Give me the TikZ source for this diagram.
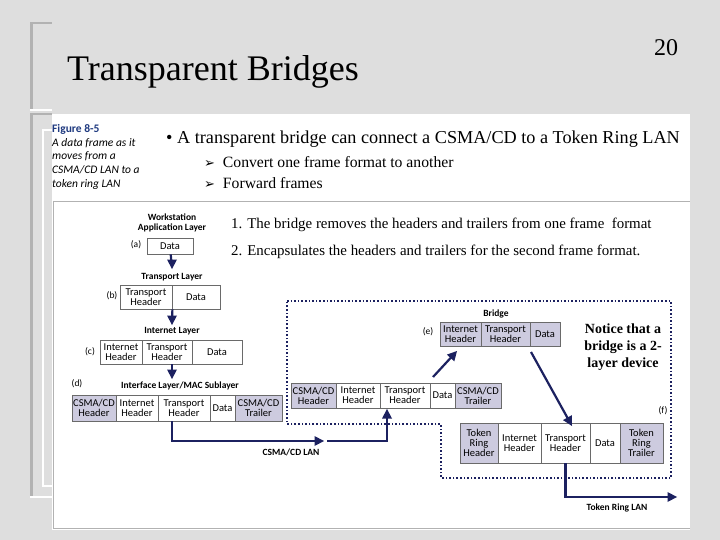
\documentclass[tikz,border=0pt]{standalone}
\usepackage{fontspec}
\setmainfont{Liberation Serif}
\newfontfamily\figfont{Carlito}
\newfontfamily\symfont{DejaVu Sans}
\definecolor{marble}{HTML}{DEDEDE}
\definecolor{navy}{HTML}{1C2160}
\definecolor{shade}{HTML}{CDCBDF}
\definecolor{edge}{HTML}{6A6A6A}
\definecolor{capblue}{HTML}{1F3A80}
\tikzset{
  cell/.style={draw=edge, line width=0.8pt, fill=white, inner sep=0pt, minimum height=#1,
    align=center, font=\figfont\fontsize{10.5}{10}\selectfont},
  cell/.default=24pt,
  shd/.style={fill=shade},
  lbl/.style={font=\figfont\fontsize{9.5}{10}\selectfont, inner sep=0pt, align=center},
  slide/.style={inner sep=0pt, anchor=west},
  frameflow/.style={color=navy, line width=2.2pt, shorten >=6pt},
}
% arrow heads, drawn at the end point of a connector
\newcommand\tipdown[1]{\fill[navy] (#1) -- ++(-5,-9.5) -- ++(10,0) -- cycle;}
\newcommand\tipup[1]{\fill[navy] (#1) -- ++(-5,9.5) -- ++(10,0) -- cycle;}
\newcommand\tipright[1]{\fill[navy] (#1) -- ++(-9.5,-5) -- ++(0,10) -- cycle;}
\begin{document}
\begin{tikzpicture}[x=1pt, y=-1pt]
\useasboundingbox (0,0) rectangle (720,540);
% slide background
\fill[marble] (0,0) rectangle (720,540);
\fill[white] (52,114) rectangle (690,530);
\draw[gray!60, line width=3pt] (31.5,23) -- (31.5,110);
\draw[gray!60, line width=2pt] (30,23) -- (52,23);
\draw[white, line width=2pt] (30,110) -- (52,110);
\draw[gray!60, line width=3pt] (31.5,114) -- (31.5,497);
\draw[gray!60, line width=2pt] (30,114) -- (52,114);
\draw[white, line width=2pt] (30,497) -- (52,497);
\draw[white, line width=1.5pt] (52,130) -- (43,130) -- (43,486) -- (52,486);
\draw[gray!60, line width=0.8pt] (53,201) -- (690,201) (53,201) -- (53,528) -- (690,528);

% titles
\node[slide] (title) at (67,72) {\fontsize{36}{36}\selectfont Transparent Bridges};
\node[inner sep=0pt] (num) at (666,48) {\fontsize{24}{24}\selectfont 20};
\node[slide] (bul) at (166,139) {\fontsize{18.2}{18}\selectfont • A transparent bridge can connect a CSMA/CD to a Token Ring LAN};
\node[slide] (sub1) at (204,162) {\fontsize{15.7}{15}\selectfont {\symfont\fontsize{13}{13}\selectfont ➢}\enspace Convert one frame format to another};
\node[slide] (sub2) at (204,183) {\fontsize{15.7}{15}\selectfont {\symfont\fontsize{13}{13}\selectfont ➢}\enspace Forward frames};
\node[slide] (step1) at (231,225) {\fontsize{14.9}{14}\selectfont 1. The bridge removes the headers and trailers from one frame\enspace format};
\node[slide] (step2) at (231,252) {\fontsize{14.9}{14}\selectfont 2. Encapsulates the headers and trailers for the second frame format.};

% figure caption
\node[slide, anchor=north west, align=left, font=\figfont\fontsize{11.5}{13.8}\selectfont] (cap) at (52,124)
  {{\bfseries\color{capblue}Figure 8-5}\\ \itshape A data frame as it\\ \itshape moves from a\\ \itshape CSMA/CD LAN to a\\ \itshape token ring LAN};

% workstation stack
\node[lbl] (la) at (172,223) {\bfseries Workstation\\ \bfseries Application Layer};
\node[cell=16pt, minimum width=46pt] (a) at (170,246) {Data};
\node[lbl] at (136,245) {(a)};
\node[lbl] (lb) at (172,277) {\bfseries Transport Layer};
\node[cell, minimum width=52pt] (b1) at (146,297) {Transport\\Header};
\node[cell, minimum width=48pt] (b2) at (196,297) {Data};
\node[lbl] at (112,296) {(b)};
\node[lbl] (lc) at (172,331) {\bfseries Internet Layer};
\node[cell, minimum width=42pt] (c1) at (121,352) {Internet\\Header};
\node[cell, minimum width=50pt] (c2) at (167,352) {Transport\\Header};
\node[cell, minimum width=50pt] (c3) at (217,352) {Data};
\node[lbl] at (90,352) {(c)};
\node[lbl] (ld) at (180,386) {\bfseries Interface Layer/MAC Sublayer};
\node[lbl] at (77,384) {(d)};
\node[cell=26pt, shd, minimum width=44pt] (d1) at (94,408) {CSMA/CD\\Header};
\node[cell=26pt, minimum width=42pt] (d2) at (137,408) {Internet\\Header};
\node[cell=26pt, minimum width=52pt] (d3) at (184,408) {Transport\\Header};
\node[cell=26pt, minimum width=25pt] (d4) at (222.5,408) {Data};
\node[cell=26pt, shd, minimum width=47pt] (d5) at (258.5,408) {CSMA/CD\\Trailer};

% bridge
\draw[navy, line width=1.6pt, dotted] (287,301) -- (671,301) -- (671,478) -- (441,478) -- (441,424) -- (287,424) -- cycle;
\node[lbl] (lbr) at (496,314) {\bfseries Bridge};
\node[lbl] at (428,332) {(e)};
\node[cell, shd, minimum width=41pt] (e1) at (460.5,334) {Internet\\Header};
\node[cell, shd, minimum width=49pt] (e2) at (505.5,334) {Transport\\Header};
\node[cell, shd, minimum width=30pt] (e3) at (545,334) {Data};
\node[cell=25pt, shd, minimum width=45pt] (g1) at (313.5,395.5) {CSMA/CD\\Header};
\node[cell=25pt, minimum width=44pt] (g2) at (358,395.5) {Internet\\Header};
\node[cell=25pt, minimum width=50pt] (g3) at (405,395.5) {Transport\\Header};
\node[cell=25pt, minimum width=25pt] (g4) at (442.5,395.5) {Data};
\node[cell=25pt, shd, minimum width=46pt] (g5) at (478,395.5) {CSMA/CD\\Trailer};
\node[font=\bfseries\fontsize{14}{17}\selectfont, align=center, inner sep=0pt] (note) at (623,347)
  {Notice that a\\bridge is a 2-\\layer device};
\node[lbl] at (663,411) {(f)};
\node[cell=40pt, shd, minimum width=38pt] (f1) at (479,443) {Token\\Ring\\Header};
\node[cell=40pt, minimum width=43pt] (f2) at (519.5,443) {Internet\\Header};
\node[cell=40pt, minimum width=49pt] (f3) at (565.5,443) {Transport\\Header};
\node[cell=40pt, minimum width=30pt] (f4) at (605,443) {Data};
\node[cell=40pt, shd, minimum width=43pt] (f5) at (641.5,443) {Token\\Ring\\Trailer};

% LAN labels and free ends
\node[lbl] (lan1) at (291,452) {\bfseries CSMA/CD LAN};
\node[lbl] (lan2) at (617,508) {\bfseries Token Ring LAN};
\coordinate (ain) at (172,269);
\coordinate (bin) at (172,325);
\coordinate (cdown) at (172,379);
\coordinate (csmaend) at (324,441);
\coordinate (csmagap) at (327,441);
\coordinate (gin) at (387,409);
\coordinate (trend) at (677,497);
\coordinate (gout) at (433,377);
\coordinate (ein) at (457,351);
\coordinate (eout) at (531,352);
\coordinate (fin) at (572,426);

% flow of the frame
\draw[frameflow] (a) -- (ain);
\draw[frameflow] (b1.south east) -- (bin);
\draw[frameflow] (lc |- c2.south) -- (cdown);
\draw[frameflow] (d3.south -| lc) |- (csmaend);
\draw[frameflow] (csmagap) -| (gin);
\draw[frameflow] (gout) -- (ein);
\draw[frameflow] (eout) -- (fin);
\draw[frameflow] (f3.south) |- (trend);
\tipdown{ain}
\tipdown{bin}
\tipdown{cdown}
\tipright{csmaend}
\tipup{gin}
\tipright{trend}
\fill[navy] (ein) -- ++(-2.7,10.4) -- ++(-7.4,-6.8) -- cycle;
\fill[navy] (fin) -- ++(-9,-5.9) -- ++(8.8,-4.9) -- cycle;
\end{tikzpicture}
\end{document}
